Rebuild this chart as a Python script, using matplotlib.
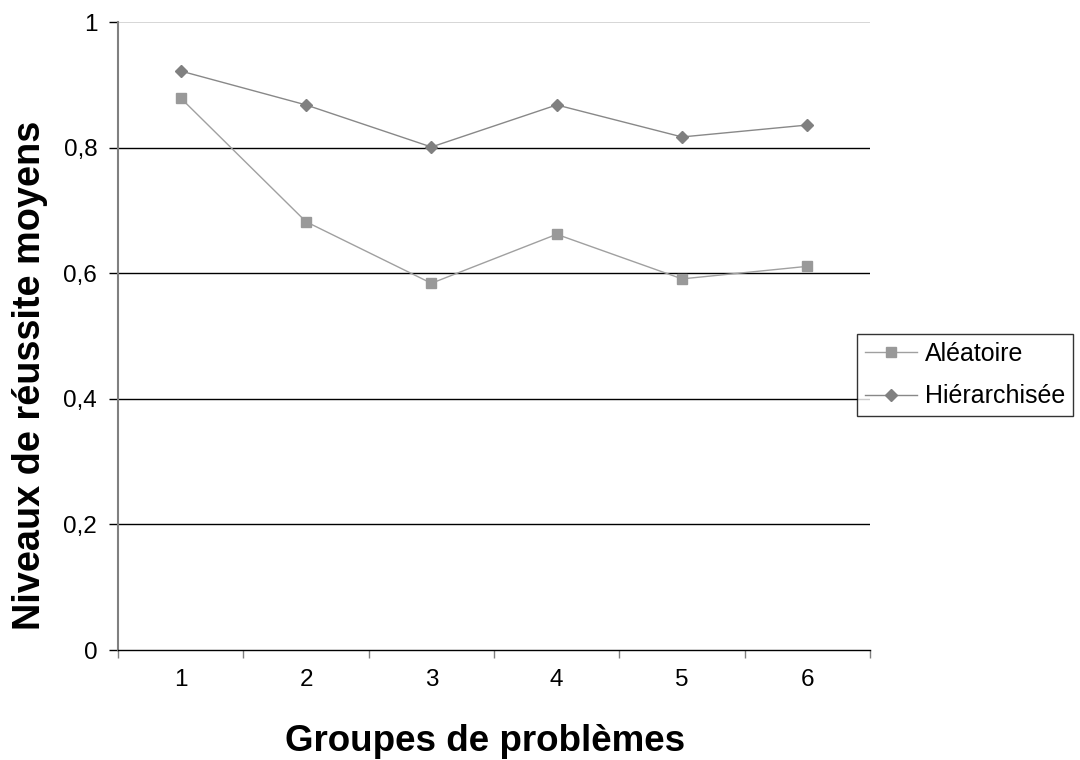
from matplotlib import pyplot as plt
from matplotlib.ticker import FixedLocator, FuncFormatter

# Data
groupes = [1, 2, 3, 4, 5, 6]
aleatoire = [0.879, 0.682, 0.584, 0.662, 0.591, 0.611]
hierarchisee = [0.922, 0.868, 0.801, 0.868, 0.817, 0.836]
yticks = [0, 0.2, 0.4, 0.6, 0.8, 1]

plt.rcParams['font.family'] = ['Liberation Sans', 'DejaVu Sans']

fig = plt.figure(figsize=(10.8, 7.6), dpi=100)
ax = fig.add_axes([0.1093, 0.1447, 0.6963, 0.8263])

# Horizontal gridlines (black), top one light gray
for v in yticks[1:-1]:
    ax.axhline(v, color='black', lw=1.0, zorder=1)
ax.axhline(yticks[-1], color='#d0d0d0', lw=1.2, zorder=1)

ax.plot(groupes, aleatoire, color='#a0a0a0', lw=1.0, marker='s', markersize=7,
        markerfacecolor='#999999', markeredgecolor='#999999', label='Aléatoire', zorder=3)
ax.plot(groupes, hierarchisee, color='#888888', lw=1.0, marker='D', markersize=6,
        markerfacecolor='#808080', markeredgecolor='#808080', label='Hiérarchisée', zorder=3)

ax.set_xlim(0.5, 6.5)
ax.set_ylim(0, 1)

# Category axis: ticks between categories, labels centred
ax.xaxis.set_major_locator(FixedLocator([0.5 + i for i in range(7)]))
ax.xaxis.set_major_formatter(FuncFormatter(lambda v, p: ''))
ax.xaxis.set_minor_locator(FixedLocator(groupes))
ax.xaxis.set_minor_formatter(FuncFormatter(lambda v, p: '%d' % v))
ax.tick_params(axis='x', which='major', length=6, color='#808080', width=1)
ax.tick_params(axis='x', which='minor', length=0, pad=14, labelsize=17.5)

ax.set_yticks(yticks)
ax.set_yticklabels(['0', '0,2', '0,4', '0,6', '0,8', '1'])
ax.tick_params(axis='y', length=6.5, color='black', width=1, labelsize=17.5, pad=8.5)

for side in ['top', 'right']:
    ax.spines[side].set_visible(False)
ax.spines['left'].set_color('#808080')
ax.spines['left'].set_linewidth(1.5)
ax.spines['bottom'].set_color('black')
ax.spines['bottom'].set_linewidth(1.0)

ax.set_xlabel('Groupes de problèmes', fontsize=26.5, fontweight='bold', labelpad=23.5)
ax.set_ylabel('Niveaux de réussite moyens', fontsize=27.3, fontweight='bold', labelpad=11)
# Labels sit slightly off-centre in the reference
ax.xaxis.label.set_x(0.488)
ax.yaxis.label.set_y(0.438)

leg = ax.legend(loc='center left', bbox_to_anchor=(0.983, 0.438), fontsize=18,
                frameon=True, fancybox=False, edgecolor='black', borderpad=0.3,
                handlelength=2.1, handletextpad=0.3, labelspacing=0.75, borderaxespad=0)
leg.get_frame().set_linewidth(1.0)

plt.savefig('out.png', dpi=100)
plt.close()
